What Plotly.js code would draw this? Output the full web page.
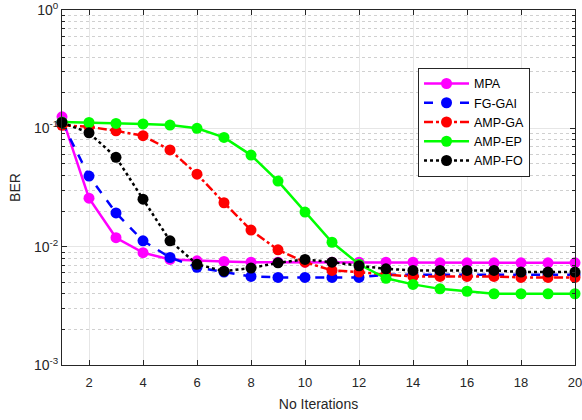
<!DOCTYPE html>
<html>
<head>
<meta charset="utf-8">
<script src="https://cdn.plot.ly/plotly-3.0.1.min.js"></script>
<style>html,body{margin:0;padding:0;background:#fff;}#chart{width:582px;height:420px;}</style>
</head>
<body>
<div id="chart"></div>
<script>
var iterations = [1,2,3,4,5,6,7,8,9,10,11,12,13,14,15,16,17,18,19,20];
var mpa    = [0.125,0.0257,0.0119,0.0089,0.0078,0.0076,0.0075,0.0074,0.0074,0.0074,0.0074,0.0074,0.0074,0.0074,0.0073,0.0073,0.0073,0.0073,0.0073,0.0073];
var fggai  = [0.112,0.0395,0.0193,0.0112,0.0081,0.0067,0.0061,0.0056,0.0055,0.0055,0.0055,0.0055,0.0058,0.0058,0.0058,0.0058,0.0058,0.0058,0.0058,0.0058];
var ampga  = [0.106,0.103,0.0953,0.0866,0.0657,0.041,0.0235,0.0138,0.0094,0.0074,0.0063,0.0061,0.0058,0.0056,0.0056,0.0056,0.0056,0.0055,0.0055,0.0055];
var ampep  = [0.113,0.112,0.110,0.109,0.1065,0.100,0.0838,0.0594,0.0358,0.0196,0.0109,0.0071,0.0054,0.0048,0.0044,0.0042,0.0040,0.0040,0.0040,0.0040];
var ampfo  = [0.112,0.0916,0.0569,0.0252,0.0112,0.0071,0.0062,0.0066,0.0073,0.0078,0.0074,0.0069,0.0065,0.0063,0.0063,0.0063,0.0063,0.0061,0.0061,0.0061];
var seriesNames = ['MPA','FG-GAI','AMP-GA','AMP-EP','AMP-FO'];
var xTicks = [2,4,6,8,10,12,14,16,18,20];
var xTickText = ['2','4','6','8','10','12','14','16','18','20'];
var yTickVals = [1,0.1,0.01,0.001];
var yTickText = ['10<sup>0</sup>','10<sup>-1</sup>','10<sup>-2</sup>','10<sup>-3</sup>'];

var minorVals = [];
[0.001,0.01,0.1].forEach(function(d){for(var k=2;k<=9;k++){minorVals.push(d*k);}});

var colors = ['#ff00ff','#0000ff','#ff0000','#00ff00','#000000'];
var dashes = ['solid','dash','dashdot','solid','dot'];
var data = [mpa,fggai,ampga,ampep,ampfo];
var traces = data.map(function(d,i){
  return {
    x: iterations, y: d, name: seriesNames[i], type:'scatter', mode:'lines+markers',
    line:{color:colors[i], width:2.5, dash:dashes[i]},
    marker:{color:colors[i], size:11, symbol:'circle'},
    cliponaxis:false
  };
});

var fontFam = 'Liberation Sans, Arial, sans-serif';
var axisCommon = {
  showline:true, linecolor:'#262626', linewidth:1, mirror:'ticks',
  ticks:'inside', ticklen:5, tickcolor:'#262626',
  gridcolor:'#e6e6e6', gridwidth:1, zeroline:false,
  ticklabeloverflow:'allow',
  tickfont:{family:fontFam, size:13, color:'#262626'}
};

var layout = {
  width:582, height:420,
  margin:{l:62, r:7, t:10, b:55},
  paper_bgcolor:'#ffffff', plot_bgcolor:'#ffffff',
  showlegend:true,
  legend:{x:0.694, y:0.837, xanchor:'left', yanchor:'top', bgcolor:'#ffffff',
    bordercolor:'#262626', borderwidth:1, tracegroupgap:0, itemwidth:45,
    font:{family:fontFam, size:12.5, color:'#000'}},
  xaxis: Object.assign({}, axisCommon, {
    range:[1,20], tickmode:'array', tickvals:xTicks, ticktext:xTickText,
    ticklabelstandoff:5,
    title:{text:'No Iterations', font:{family:fontFam, size:14, color:'#262626'}, standoff:10}
  }),
  yaxis: Object.assign({}, axisCommon, {
    type:'log', range:[-3,0], tickmode:'array', tickvals:yTickVals, ticktext:yTickText,
    tickfont:{family:fontFam, size:14, color:'#262626'},
    title:{text:'BER', font:{family:fontFam, size:14, color:'#262626'}, standoff:10},
    minor:{tickmode:'array', tickvals:minorVals, ticks:'inside', ticklen:3, tickcolor:'#262626',
      showgrid:true, gridcolor:'#d0d0d0', griddash:'dot', gridwidth:1}
  })
};

Plotly.newPlot('chart', traces, layout, {displayModeBar:false, staticPlot:true});
</script>
</body>
</html>
